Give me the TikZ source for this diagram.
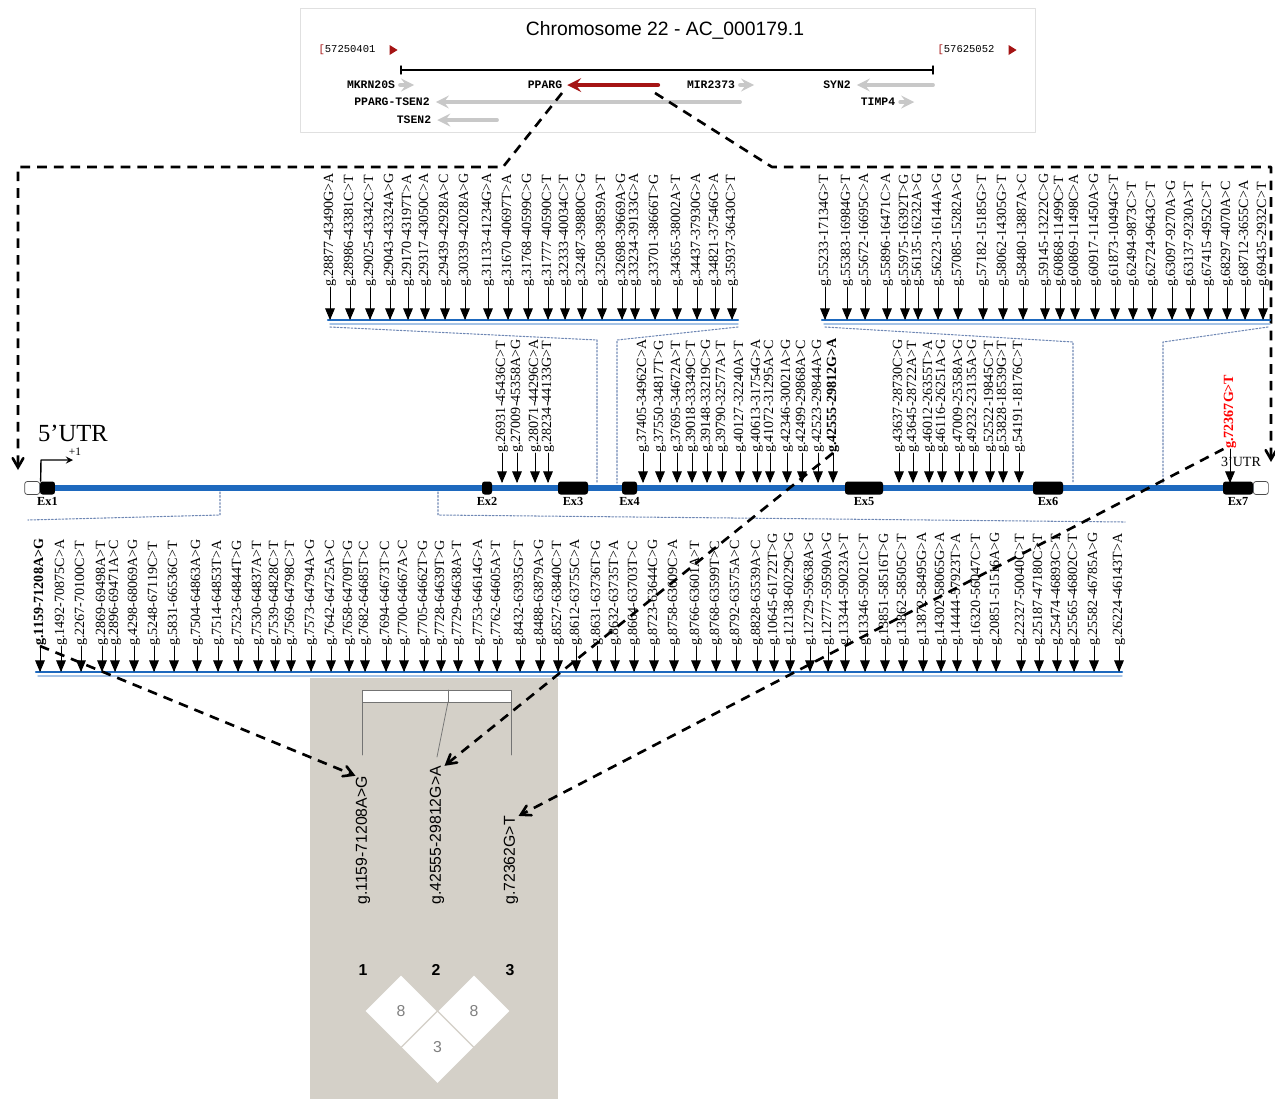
\documentclass[tikz,border=0pt]{standalone}
\usepackage{fontspec}
\setmainfont{Liberation Serif}
\setsansfont{Liberation Sans}
\setmonofont{Liberation Mono}
\usetikzlibrary{arrows,calc,positioning,shapes.geometric}

\definecolor{geneblue}{RGB}{30,105,190}
\definecolor{paleblue}{RGB}{165,195,230}
\definecolor{zoomblue}{RGB}{110,135,180}
\definecolor{pparg}{RGB}{165,20,20}
\definecolor{locus}{RGB}{200,200,200}
\definecolor{ldback}{RGB}{212,208,200}

\tikzset{
  snp/.style={rotate=90,anchor=west,inner sep=0pt,font=\fontsize{8}{8}\selectfont},
  snparrow/.style={-triangle 45,line width=0.5pt},
  basebar/.style={geneblue,line width=1.4pt},
  exon/.style={fill=black,rounded corners=1.5pt,inner sep=0pt,minimum height=0.26cm},
  utr/.style={draw=black!70,fill=white,rounded corners=1.5pt,inner sep=0pt,minimum height=0.26cm,minimum width=0.3cm},
  exname/.style={font=\bfseries\fontsize{7}{8}\selectfont,inner sep=1pt},
  zoomline/.style={zoomblue,line width=0.6pt,dash pattern=on 1pt off 1pt},
  linkarrow/.style={->,>=angle 60,line width=1.5pt,line cap=butt,dash pattern=on 5.5pt off 4pt},
  locusname/.style={font=\ttfamily\bfseries\fontsize{6.5}{7}\selectfont,inner sep=1pt},
  locusarrow/.style={locus,line width=2.2pt,-stealth},
  ldname/.style={rotate=90,anchor=west,inner sep=0pt,font=\sffamily\fontsize{9}{9}\selectfont},
  ldcell/.style={diamond,aspect=1,fill=white,inner sep=0pt,minimum size=1.42cm,text=gray,font=\sffamily\fontsize{9}{9}\selectfont}
}

\begin{document}
\begin{tikzpicture}[x=0.02cm,y=-0.02cm,line cap=round,line join=round]
\useasboundingbox (0,0) rectangle (1275,1099);

% chromosome window
\draw[black!12] (300,8) rectangle (1035,132);
\node[font=\sffamily\fontsize{11}{12}\selectfont] (chrom) at (665,30) {Chromosome 22 - AC\_000179.1};
\node[locusname,font=\ttfamily\fontsize{6}{6}\selectfont] (from) at (347,50) {\textcolor{pparg}{[}57250401};
\node[locusname,font=\ttfamily\fontsize{6}{6}\selectfont] (to) at (966,50) {\textcolor{pparg}{[}57625052};
\fill[pparg] ($(from.east)+(12,-5)$) -- ++(0,10) -- ++(8,-5) -- cycle;
\fill[pparg] ($(to.east)+(12,-5)$) -- ++(0,10) -- ++(8,-5) -- cycle;
\coordinate (win-l) at (401,70);
\coordinate (win-r) at (933,70);
\draw[line width=0.8pt] (win-l) -- (win-r);
\draw[line width=0.8pt] (win-l) ++(0,-4) -- ++(0,8);
\draw[line width=0.8pt] (win-r) ++(0,-4) -- ++(0,8);

\node[locusname] (mkrn) at (371,85) {MKRN20S};
\node[locusname] (ppargname) at (545,85) {PPARG};
\node[locusname] (mir) at (711,85) {MIR2373};
\node[locusname] (syn) at (837,85) {SYN2};
\node[locusname] (ptsen) at (392,102) {PPARG-TSEN2};
\node[locusname] (timp) at (878,102) {TIMP4};
\node[locusname] (tsen) at (414,120) {TSEN2};
\draw[locusarrow] ($(mkrn.east)+(3,0)$) -- ++(14,0);
\draw[locusarrow] ($(mir.east)+(3,0)$) -- ++(14,0);
\draw[locusarrow] ($(timp.east)+(3,0)$) -- ++(14,0);
\draw[locusarrow] (win-r |- syn) -- ($(syn.east)+(4,0)$);
\draw[locusarrow] (740,102) -- ($(ptsen.east)+(4,0)$);
\draw[locusarrow] (497,120) -- ($(tsen.east)+(4,0)$);
\coordinate (pp-r) at (658,85);
\draw[pparg,line width=2.4pt,-stealth] (pp-r) -- ($(ppargname.east)+(3,0)$);

% zoom from PPARG to the gene
\coordinate (pp-dl) at (562,93);
\coordinate (pp-dr) at (655,93);
\draw[linkarrow] (pp-dl) -- (503,167) -- (18,167) -- (18,470);
\draw[linkarrow] (pp-dr) -- (772,167) -- (1271,167) -- (1271,462);

% gene
\coordinate (tss) at (40,488);
\coordinate (tes) at (1253,488);
\draw[geneblue,line width=3pt] (tss) -- (tes);
\node[utr,anchor=east] (utr5) at (tss) {};
\node[utr,anchor=west] (utr3) at (tes) {};
\node[exon,minimum width=0.3cm] (ex1) at (47.5,488) {};
\node[exon,minimum width=0.2cm] (ex2) at (487,488) {};
\node[exon,minimum width=0.6cm] (ex3) at (573,488) {};
\node[exon,minimum width=0.3cm] (ex4) at (629.5,488) {};
\node[exon,minimum width=0.76cm] (ex5) at (864,488) {};
\node[exon,minimum width=0.6cm] (ex6) at (1048,488) {};
\node[exon,minimum width=0.6cm] (ex7) at (1238,488) {};
\foreach \e in {1,...,7}
  \node[exname,below=0pt of ex\e] (ex\e-lab) {Ex\e};

\node[font=\fontsize{14}{14}\selectfont] (utr5-lab) at (73,433) {5'UTR};
\coordinate (tss-top) at (41,460);
\draw[line width=0.8pt,-stealth] ($(ex1.north west)+(1,0)$) -- (tss-top) -- ++(32,0);
\node[font=\fontsize{6.5}{6.5}\selectfont,inner sep=0pt] (plus1) at (75,452) {+1};
\node[font=\fontsize{8}{8}\selectfont] (utr3-lab) at (1241,462) {3'UTR};

% upper left: intron 3
\coordinate (ul-base) at (0,320);
\draw[paleblue,line width=0.8pt] (330,324) -- (738,324);
\draw[basebar] (328,320) -- (738,320);
\foreach \x/\t [count=\i] in {330/g.28877-43490G>A, 350/g.28986-43381C>T,
  370/g.29025-43342C>T, 390/g.29043-43324A>G, 408/g.29170-43197T>A,
  425/g.29317-43050C>A, 445/g.29439-42928A>C, 465/g.30339-42028A>G,
  488/g.31133-41234G>A, 508/g.31670-40697T>A, 528/g.31768-40599C>G,
  548/g.31777-40590C>T, 565/g.32333-40034C>T, 582/g.32487-39880C>G,
  602/g.32508-39859A>T, 622/g.32698-39669A>G, 635/g.33234-39133G>A,
  655/g.33701-38666T>G, 677/g.34365-38002A>T, 697/g.34437-37930G>A,
  715/g.34821-37546G>A, 732/g.35937-36430C>T} {
  \node[snp] (ul\i) at (\x,287) {\t};
  \draw[snparrow] (ul\i.west) -- (ul\i.west |- ul-base);
}
\draw[zoomline] (330,327) -- (597,340) -- (597,483);
\draw[zoomline] (738,327) -- (617,340) -- (617,483);

% upper right: intron 6
\draw[paleblue,line width=0.8pt] (824,324) -- (1270,324);
\draw[basebar] (822,320) -- (1270,320);
\foreach \x/\t [count=\i] in {825/g.55233-17134G>T, 847/g.55383-16984G>T,
  865/g.55672-16695C>A, 887/g.55896-16471C>A, 905/g.55975-16392T>G,
  918/g.56135-16232A>G, 938/g.56223-16144A>G, 958/g.57085-15282A>G,
  983/g.57182-15185G>T, 1003/g.58062-14305G>T, 1023/g.58480-13887A>C,
  1045/g.59145-13222C>G, 1060/g.60868-11499C>T, 1075/g.60869-11498C>A,
  1095/g.60917-11450A>G, 1115/g.61873-10494G>T, 1133/g.62494-9873C>T,
  1152/g.62724-9643C>T, 1172/g.63097-9270A>G, 1190/g.63137-9230A>T,
  1208/g.67415-4952C>T, 1227/g.68297-4070A>C, 1245/g.68712-3655C>A,
  1263/g.69435-2932C>T} {
  \node[snp] (ur\i) at (\x,287) {\t};
  \draw[snparrow] (ur\i.west) -- (ur\i.west |- ul-base);
}
\draw[zoomline] (825,327) -- (1073,342) -- (1073,483);
\draw[zoomline] (1268,327) -- (1163,342) -- (1163,483);

% on the gene
\coordinate (mid-base) at (0,483);
\foreach \x/\t [count=\i] in {502/g.26931-45436C>T, 517/g.27009-45358A>G,
  535/g.28071-44296C>A, 548/g.28234-44133G>T,
  643/g.37405-34962C>A, 660/g.37550-34817T>G, 677/g.37695-34672A>T,
  692/g.39018-33349C>T, 707/g.39148-33219C>G, 722/g.39790-32577A>T,
  740/g.40127-32240A>T, 757/g.40613-31754G>A, 770/g.41072-31295A>C,
  787/g.42346-30021A>G, 802/g.42499-29868A>C, 818/g.42523-29844A>G,
  899/g.43637-28730C>G, 913/g.43645-28722A>T, 929/g.46012-26355T>A,
  942/g.46116-26251A>G, 959/g.47009-25358A>G, 973/g.49232-23135A>G,
  990/g.52522-19845C>T, 1003/g.53828-18539G>T, 1019/g.54191-18176C>T} {
  \node[snp] (m\i) at (\x,453) {\t};
  \draw[snparrow] (m\i.west) -- (m\i.west |- mid-base);
}
\node[snp,font=\bfseries\fontsize{8}{8}\selectfont] (s-42555) at (833,453) {g.42555-29812G>A};
\draw[snparrow] (s-42555.west) -- (s-42555.west |- mid-base);
\node[snp,text=red,font=\bfseries\fontsize{8}{8}\selectfont] (s-72367) at (1230,449) {g.72367G>T};
\draw[snparrow] (s-72367.west) -- (s-72367.west |- mid-base);

% lower: intron 1
\draw[zoomline] (220,492) -- (220,515) -- (28,520);
\draw[zoomline] (438,492) -- (438,515) -- (1125,522);
\coordinate (lo-base) at (0,672);
\draw[paleblue,line width=0.8pt] (38,676) -- (1122,676);
\draw[basebar] (36,672) -- (1122,672);
\node[snp,font=\bfseries\fontsize{8}{8}\selectfont] (s-1159) at (40,646) {g.1159-71208A>G};
\draw[snparrow] (s-1159.west) -- (s-1159.west |- lo-base);
\foreach \x/\t [count=\i] in {61/g.1492-70875C>A, 81/g.2267-70100C>T,
  102/g.2869-69498A>T, 115/g.2896-69471A>C, 134/g.4298-68069A>G,
  154/g.5248-67119C>T, 174/g.5831-66536C>T, 197/g.7504-64863A>G,
  218/g.7514-64853T>A, 238/g.7523-64844T>G, 258/g.7530-64837A>T,
  275/g.7539-64828C>T, 291/g.7569-64798C>T, 311/g.7573-64794A>G,
  331/g.7642-64725A>C, 349/g.7658-64709T>G, 365/g.7682-64685T>C,
  386/g.7694-64673T>C, 404/g.7700-64667A>C, 424/g.7705-64662T>G,
  441/g.7728-64639T>G, 458/g.7729-64638A>T, 479/g.7753-64614G>A,
  497/g.7762-64605A>T, 520/g.8432-63935G>T, 540/g.8488-63879A>G,
  558/g.8527-63840C>T, 576/g.8612-63755C>A, 597/g.8631-63736T>G,
  615/g.8632-63735T>A, 634/g.8664-63703T>C, 654/g.8723-63644C>G,
  674/g.8758-63609C>A, 696/g.8766-63601A>T, 716/g.8768-63599T>C,
  736/g.8792-63575A>C, 757/g.8828-63539A>C, 774/g.10645-61722T>G,
  790/g.12138-60229C>G, 810/g.12729-59638A>G, 828/g.12777-59590A>G,
  845/g.13344-59023A>T, 865/g.13346-59021C>T, 885/g.13851-58516T>G,
  903/g.13862-58505C>T, 923/g.13872-58495G>A, 941/g.14302-58065G>A,
  957/g.14444-57923T>A, 977/g.16320-56047C>T, 996/g.20851-51516A>G,
  1021/g.22327-50040C>T, 1039/g.25187-47180C>T, 1057/g.25474-46893C>T,
  1074/g.25565-46802C>T, 1094/g.25582-46785A>G, 1119/g.26224-46143T>A} {
  \node[snp] (lo\i) at (\x,646) {\t};
  \draw[snparrow] (lo\i.west) -- (lo\i.west |- lo-base);
}

% LD block
\fill[ldback] (310,678) rectangle (558,1099);
\draw[black!55,fill=white] (362,690) rectangle (511,702);
\draw[black!55] (448,690) -- (448,702);
\draw[black!55,line width=0.4pt] (362,702) -- (362,755);
\draw[black!55,line width=0.4pt] (448,702) -- (437,757);
\draw[black!55,line width=0.4pt] (511,702) -- (511,755);
\node[ldname] (ld1) at (363,905) {g.1159-71208A>G};
\node[ldname] (ld2) at (437,905) {g.42555-29812G>A};
\node[ldname] (ld3) at (511,905) {g.72362G>T};
\node[font=\sffamily\bfseries\fontsize{9}{9}\selectfont] (n1) at (363,970) {1};
\node[font=\sffamily\bfseries\fontsize{9}{9}\selectfont] (n2) at (436,970) {2};
\node[font=\sffamily\bfseries\fontsize{9}{9}\selectfont] (n3) at (510,970) {3};
\node[ldcell] (r12) at (401,1011) {8};
\node[ldcell] (r23) at (474,1011) {8};
\node[ldcell] (r13) at (437.5,1047.5) {3};

% links to the LD block
\draw[linkarrow] (s-1159.west) -- (ld1.north east);
\draw[linkarrow] (s-42555.west) -- (ld2.south east);
\draw[linkarrow] (s-72367.north west) -- (ld3.south east);
\end{tikzpicture}
\end{document}
